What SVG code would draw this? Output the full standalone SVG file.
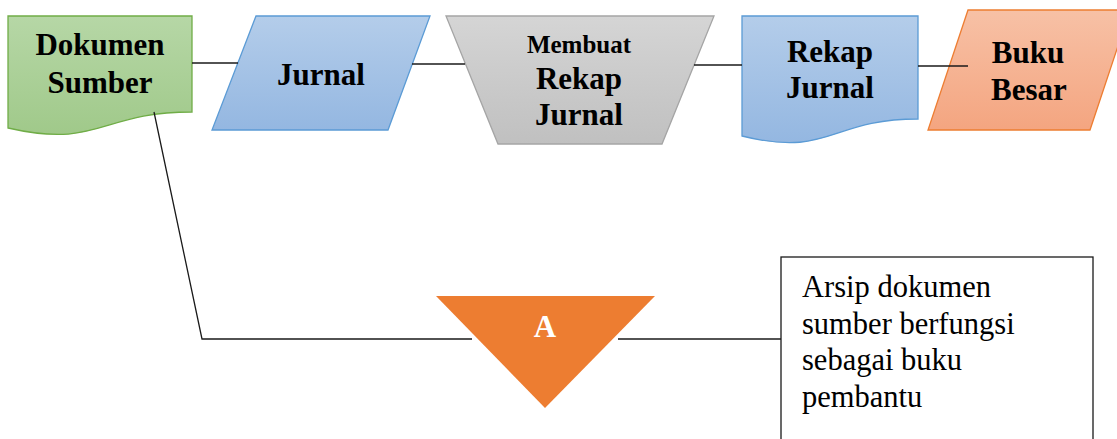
<svg xmlns="http://www.w3.org/2000/svg" width="1117" height="439" viewBox="0 0 1117 439">
  <defs>
    <linearGradient id="gGreen" x1="0" y1="0" x2="0" y2="1">
      <stop offset="0" stop-color="#b6d7a6"/>
      <stop offset="1" stop-color="#a0c98a"/>
    </linearGradient>
    <linearGradient id="gBlue" x1="0" y1="0" x2="0" y2="1">
      <stop offset="0" stop-color="#b4cdea"/>
      <stop offset="1" stop-color="#94b7e1"/>
    </linearGradient>
    <linearGradient id="gGray" x1="0" y1="0" x2="0" y2="1">
      <stop offset="0" stop-color="#d5d5d5"/>
      <stop offset="1" stop-color="#c0c0c0"/>
    </linearGradient>
    <linearGradient id="gOrange" x1="0" y1="0" x2="0" y2="1">
      <stop offset="0" stop-color="#f7c1a6"/>
      <stop offset="1" stop-color="#f4a580"/>
    </linearGradient>
    <style>
      .title { font-family: "Liberation Serif", "Times New Roman", serif; font-weight: bold; font-size: 31px; fill: #000; text-anchor: middle; }
      .small { font-size: 25px; }
      .note { font-family: "Liberation Serif", "Times New Roman", serif; font-size: 30.5px; fill: #000; }
      .conn { fill: none; stroke: #1a1a1a; stroke-width: 1.3; }
    </style>
  </defs>

  <rect width="1117" height="439" fill="#ffffff"/>

  <!-- Source document -->
  <g id="dokumen-sumber">
    <path d="M8,16 H192 V112 C100,112 100,149 8,128 Z" fill="url(#gGreen)" stroke="#70ad47" stroke-width="1.3"/>
    <text class="title" x="100" y="55">Dokumen</text>
    <text class="title" x="100" y="93">Sumber</text>
  </g>

  <!-- Journal (data) -->
  <g id="jurnal">
    <polygon points="256,16 430,16 388,130 212,130" fill="url(#gBlue)" stroke="#5b9bd5" stroke-width="1.3"/>
    <text class="title" x="321" y="85">Jurnal</text>
  </g>

  <!-- Manual operation -->
  <g id="membuat-rekap">
    <polygon points="446,16 714,16 662,144 498,144" fill="url(#gGray)" stroke="#a5a5a5" stroke-width="1.3"/>
    <text class="title small" x="579" y="53">Membuat</text>
    <text class="title" x="579" y="89">Rekap</text>
    <text class="title" x="579" y="125">Jurnal</text>
  </g>

  <!-- Journal summary document -->
  <g id="rekap-jurnal">
    <path d="M742,16 H918 V119 C830,119 830,158 742,136 Z" fill="url(#gBlue)" stroke="#5b9bd5" stroke-width="1.3"/>
    <text class="title" x="830" y="62">Rekap</text>
    <text class="title" x="830" y="98">Jurnal</text>
  </g>

  <!-- General ledger (data) -->
  <g id="buku-besar">
    <polygon points="968,10 1130,10 1090,130 928,130" fill="url(#gOrange)" stroke="#ed7d31" stroke-width="1.3"/>
    <text class="title" x="1028" y="63">Buku</text>
    <text class="title" x="1029" y="100">Besar</text>
  </g>

  <!-- Connectors -->
  <g id="connectors">
    <line class="conn" x1="192" y1="63" x2="238" y2="63"/>
    <line class="conn" x1="412" y1="64" x2="465" y2="64"/>
    <line class="conn" x1="694" y1="65" x2="742" y2="65"/>
    <line class="conn" x1="918" y1="66" x2="968" y2="66"/>
    <polyline class="conn" points="154,112 202,339 472,339"/>
    <line class="conn" x1="618" y1="339" x2="781" y2="339"/>
  </g>

  <!-- Off-page archive -->
  <g id="arsip-a">
    <polygon points="436,296 655,296 545,408" fill="#ed7d31"/>
    <text class="title" x="545" y="337" style="fill:#ffffff;font-size:31px">A</text>
  </g>

  <!-- Annotation box -->
  <g id="keterangan">
    <rect x="781" y="257" width="312" height="200" fill="#ffffff" stroke="#1a1a1a" stroke-width="1.3"/>
    <text class="note" x="802" y="297">Arsip dokumen</text>
    <text class="note" x="802" y="334">sumber berfungsi</text>
    <text class="note" x="802" y="370">sebagai buku</text>
    <text class="note" x="802" y="407">pembantu</text>
  </g>
</svg>
